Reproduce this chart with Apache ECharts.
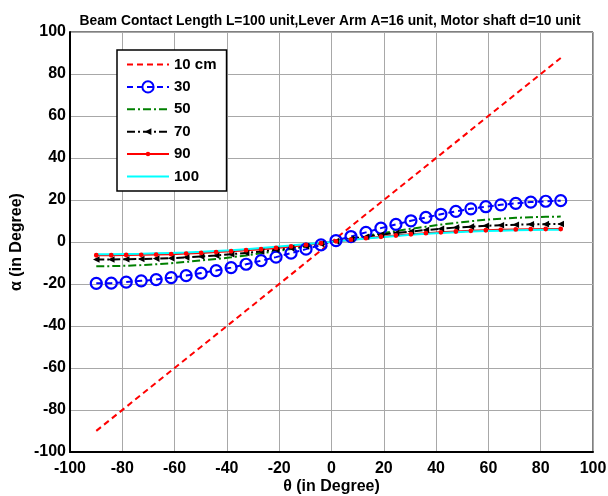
<!DOCTYPE html>
<html>
<head>
<meta charset="utf-8">
<script src="https://cdn.jsdelivr.net/npm/echarts@6/dist/echarts.min.js"></script>
<style>html,body{margin:0;padding:0;background:#fff}#c{width:608px;height:496px}</style>
</head>
<body>
<div id="c"></div>
<script>
var titleText = 'Beam Contact Length L=100 unit,Lever Arm A=16 unit, Motor shaft d=10 unit';
var xName = 'θ (in Degree)';
var yName = 'α (in Degree)';
var seriesNames = ['10 cm', '30', '50', '70', '90', '100'];
var theta = [-89.95, -84.22, -78.50, -72.77, -67.04, -61.31, -55.58, -49.85, -44.12, -38.39, -32.66, -26.93, -21.20, -15.47, -9.74, -4.01, 1.72, 7.45, 13.18, 18.91, 24.64, 30.37, 36.10, 41.83, 47.56, 53.29, 59.02, 64.74, 70.47, 76.20, 81.93, 87.66];
var s10 = [-89.95, -84.22, -78.50, -72.77, -67.04, -61.31, -55.58, -49.85, -44.12, -38.39, -32.66, -26.93, -21.20, -15.47, -9.74, -4.01, 1.72, 7.45, 13.18, 18.91, 24.64, 30.37, 36.10, 41.83, 47.56, 53.29, 59.02, 64.74, 70.47, 76.20, 81.93, 87.66];
var s30 = [-19.7, -19.6, -19.1, -18.5, -17.9, -17.0, -16.0, -14.8, -13.6, -12.2, -10.6, -8.9, -7.2, -5.3, -3.4, -1.4, 0.7, 2.6, 4.6, 6.6, 8.4, 10.1, 11.7, 13.2, 14.6, 15.8, 16.8, 17.7, 18.4, 19.0, 19.4, 19.7];
var s50 = [-11.6, -11.5, -11.3, -11.0, -10.6, -10.1, -9.5, -8.8, -8.1, -7.3, -6.4, -5.4, -4.4, -3.3, -2.1, -0.9, 0.4, 1.7, 2.9, 4.1, 5.2, 6.3, 7.3, 8.3, 9.1, 9.9, 10.6, 11.1, 11.5, 11.8, 12.0, 12.1];
var s70 = [-8.3, -8.3, -8.2, -8.1, -7.9, -7.7, -7.3, -6.9, -6.4, -5.8, -5.2, -4.5, -3.7, -2.9, -2.0, -0.9, 0.4, 1.5, 2.5, 3.5, 4.3, 5.0, 5.7, 6.3, 6.9, 7.3, 7.7, 8.0, 8.2, 8.4, 8.5, 8.6];
var s90 = [-6.3, -6.3, -6.2, -6.1, -6.0, -5.8, -5.5, -5.2, -4.8, -4.4, -3.9, -3.4, -2.8, -2.1, -1.4, -0.6, 0.3, 1.1, 1.8, 2.5, 3.1, 3.7, 4.2, 4.6, 5.0, 5.3, 5.6, 5.8, 6.0, 6.1, 6.2, 6.2];
var s100 = [-5.8, -5.8, -5.7, -5.6, -5.4, -5.2, -5.0, -4.7, -4.3, -3.9, -3.4, -2.9, -2.3, -1.7, -1.0, -0.5, 0.3, 1.0, 1.7, 2.3, 2.9, 3.4, 3.9, 4.3, 4.7, 5.0, 5.2, 5.4, 5.6, 5.7, 5.8, 5.8];
var xTicks = [-100, -80, -60, -40, -20, 0, 20, 40, 60, 80, 100];
var yTicks = [-100, -80, -60, -40, -20, 0, 20, 40, 60, 80, 100];

function pairs(ys) { return theta.map(function (t, i) { return [t, ys[i]]; }); }

// small marker shapes padded inside a 10x10 box
var DOT = 'path://M0,0M10,10M5,3A2,2,0,1,0,5.001,3Z';
var TRI = 'path://M0,0M10,10M2,5L8,2L8,8Z';

var FONT = 'Liberation Sans, Arial, sans-serif';
var chart = echarts.init(document.getElementById('c'), null, {renderer: 'canvas'});
var axisCommon = {
  type: 'value', min: xTicks[0], max: xTicks[xTicks.length - 1], interval: 20,
  axisLine: {show: true, onZero: false, lineStyle: {color: '#000', width: 2}},
  axisTick: {show: false},
  splitLine: {show: true, lineStyle: {color: '#a8a8a8', width: 1}},
  axisLabel: {color: '#000', fontFamily: FONT, fontWeight: 'bold', fontSize: 16},
  nameLocation: 'middle',
  nameMoveOverlap: false,
  nameTextStyle: {color: '#000', fontFamily: FONT, fontWeight: 'bold', fontSize: 16}
};
var hide = {opacity: 0};
var option = {
  animation: false,
  backgroundColor: '#fff',
  title: {
    text: titleText, left: 325, top: 9, textAlign: 'center',
    textStyle: {fontFamily: FONT, fontWeight: 'bold', fontSize: 13.8, color: '#000'}
  },
  grid: {left: 70, right: 15, top: 32, bottom: 44, show: true, borderColor: '#000', borderWidth: 1,
    backgroundColor: '#fff', containLabel: false, outerBoundsMode: 'none'},
  legend: {
    orient: 'vertical', left: 117, top: 50,
    backgroundColor: '#fff', borderColor: '#000', borderWidth: 1.5,
    padding: [7, 10, 7, 9], itemWidth: 42, itemHeight: 14, itemGap: 7.4,
    textStyle: {fontFamily: FONT, fontWeight: 'bold', fontSize: 15, color: '#000'},
    data: [
      {name: seriesNames[0], itemStyle: hide},
      {name: seriesNames[1]},
      {name: seriesNames[2], itemStyle: hide},
      {name: seriesNames[3]},
      {name: seriesNames[4]},
      {name: seriesNames[5], itemStyle: hide}
    ]
  },
  xAxis: Object.assign({}, axisCommon, {
    name: xName, nameGap: 27,
    axisLabel: Object.assign({}, axisCommon.axisLabel, {margin: 9})
  }),
  yAxis: Object.assign({}, axisCommon, {
    min: yTicks[0], max: yTicks[yTicks.length - 1],
    name: yName, nameGap: 45,
    axisLabel: Object.assign({}, axisCommon.axisLabel, {margin: 4})
  }),
  series: [
    {name: seriesNames[0], type: 'line', data: pairs(s10), symbol: 'none',
      lineStyle: {color: '#ff0000', width: 2, type: [6, 4]}, itemStyle: {color: '#ff0000'}},
    {name: seriesNames[1], type: 'line', data: pairs(s30), symbol: 'circle', symbolSize: 11,
      lineStyle: {color: '#0000ff', width: 2, type: [6, 4]},
      itemStyle: {color: 'rgba(255,255,255,0)', borderColor: '#0000ff', borderWidth: 2.2}},
    {name: seriesNames[2], type: 'line', data: pairs(s50), symbol: 'none',
      lineStyle: {color: '#008000', width: 2, type: [8, 3, 2, 3]}, itemStyle: {color: '#008000'}},
    {name: seriesNames[3], type: 'line', data: pairs(s70), symbol: TRI, symbolSize: 11,
      lineStyle: {color: '#000000', width: 2, type: [8, 3, 2, 3]}, itemStyle: {color: '#000000'}},
    {name: seriesNames[4], type: 'line', data: pairs(s90), symbol: DOT, symbolSize: 12,
      lineStyle: {color: '#ff0000', width: 2}, itemStyle: {color: '#ff0000'}},
    {name: seriesNames[5], type: 'line', data: pairs(s100), symbol: 'none',
      lineStyle: {color: '#00ffff', width: 2}, itemStyle: {color: '#00ffff'}}
  ]
};
chart.setOption(option);
</script>
</body>
</html>
